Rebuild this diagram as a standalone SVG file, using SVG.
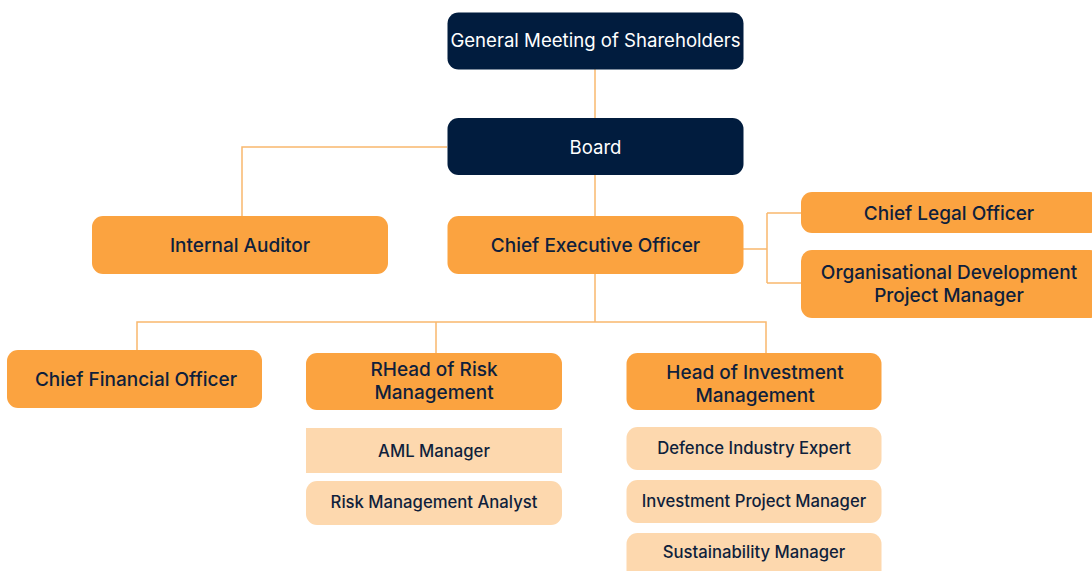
<svg xmlns="http://www.w3.org/2000/svg" width="1092" height="571" viewBox="0 0 1092 571">
  <style>
    .navy { fill: #011c3e; }
    .main { fill: #fba340; }
    .sub { fill: #fdd8ae; }
    .link { fill: none; stroke: #f9b86e; stroke-width: 1.5; }
    text { font-family: Inter, "Noto Sans", "Liberation Sans", sans-serif; text-anchor: middle; dominant-baseline: central; }
    .tw { fill: #ffffff; font-size: 18.6px; }
    .tm { fill: #0f1f3c; font-size: 19px; font-weight: 500; }
    .ts { fill: #0f1f3c; font-size: 16.7px; font-weight: 500; }
  </style>

  <!-- connectors -->
  <g id="connectors">
    <path class="link" d="M595 69 V118"/>
    <path class="link" d="M447 147 H242 V216"/>
    <path class="link" d="M595 175 V216"/>
    <path class="link" d="M743 249 H767 M767 213 V283 M767 213 H801 M767 283 H801"/>
    <path class="link" d="M595 273 V322 M137 350 V322 H766 V353 M436 322 V353"/>
  </g>

  <g id="gms">
    <rect class="navy" x="447.5" y="12.5" width="296" height="57" rx="11"/>
    <text class="tw" x="595.5" y="40">General Meeting of Shareholders</text>
  </g>
  <g id="board">
    <rect class="navy" x="447.5" y="118" width="296" height="57" rx="11"/>
    <text class="tw" x="595.5" y="147">Board</text>
  </g>
  <g id="internal-auditor">
    <rect class="main" x="92" y="216" width="296" height="58" rx="11"/>
    <text class="tm" x="240" y="245">Internal Auditor</text>
  </g>
  <g id="ceo">
    <rect class="main" x="447.5" y="216" width="296" height="58" rx="11"/>
    <text class="tm" x="595.5" y="245">Chief Executive Officer</text>
  </g>
  <g id="clo">
    <rect class="main" x="801" y="192" width="300" height="41" rx="11"/>
    <text class="tm" x="949" y="213">Chief Legal Officer</text>
  </g>
  <g id="odpm">
    <rect class="main" x="801" y="250" width="300" height="68" rx="11"/>
    <text class="tm" x="949" y="272">Organisational Development</text>
    <text class="tm" x="949" y="295">Project Manager</text>
  </g>
  <g id="cfo">
    <rect class="main" x="7" y="350" width="255" height="58" rx="11"/>
    <text class="tm" x="136" y="379">Chief Financial Officer</text>
  </g>
  <g id="head-risk">
    <rect class="main" x="306" y="353" width="256" height="57" rx="11"/>
    <text class="tm" x="434" y="369">RHead of Risk</text>
    <text class="tm" x="434" y="392">Management</text>
  </g>
  <g id="head-investment">
    <rect class="main" x="626.5" y="353" width="255" height="57" rx="11"/>
    <text class="tm" x="755" y="372">Head of Investment</text>
    <text class="tm" x="755" y="395">Management</text>
  </g>
  <g id="aml">
    <rect class="sub" x="306" y="428" width="256" height="45"/>
    <text class="ts" x="434" y="451">AML Manager</text>
  </g>
  <g id="rma">
    <rect class="sub" x="306" y="481" width="256" height="44" rx="11"/>
    <text class="ts" x="434" y="502">Risk Management Analyst</text>
  </g>
  <g id="die">
    <rect class="sub" x="626.5" y="427" width="255" height="43" rx="11"/>
    <text class="ts" x="754" y="448">Defence Industry Expert</text>
  </g>
  <g id="ipm">
    <rect class="sub" x="626.5" y="480" width="255" height="43" rx="11"/>
    <text class="ts" x="754" y="501">Investment Project Manager</text>
  </g>
  <g id="sm">
    <rect class="sub" x="626.5" y="533" width="255" height="50" rx="11"/>
    <text class="ts" x="754" y="552">Sustainability Manager</text>
  </g>
</svg>
